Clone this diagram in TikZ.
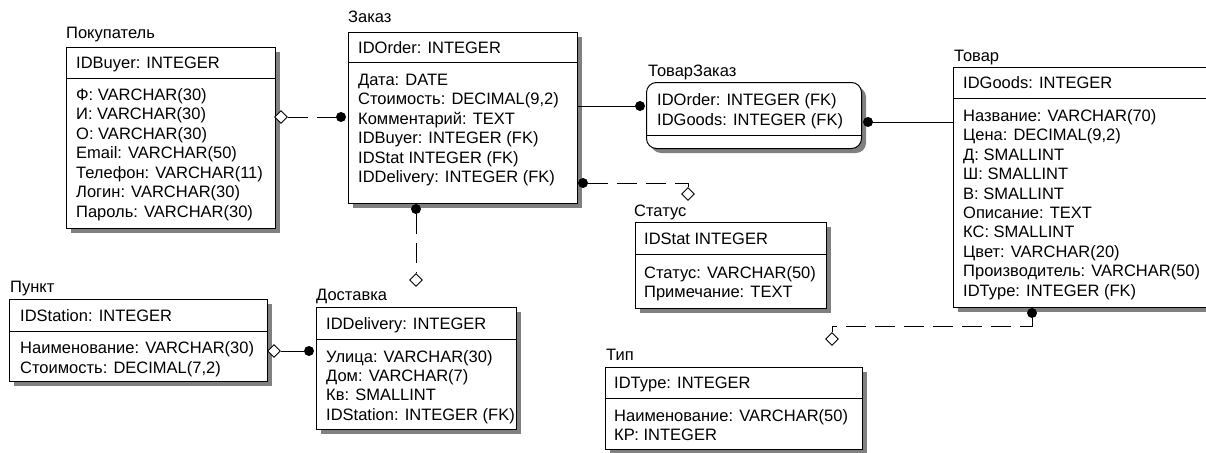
\documentclass[tikz,border=0pt]{standalone}
\usepackage{fontspec}
\setmainfont{Liberation Sans}
\usetikzlibrary{shapes.geometric,shadows}
\begin{document}
\begin{tikzpicture}[x=1pt,y=-1pt,
  ent/.style={draw, fill=white, line width=1pt, inner sep=0, anchor=north west,
    general shadow={fill=black!50, shadow xshift=4.5pt, shadow yshift=-4.5pt}},
  txt/.style={anchor=base west, inner sep=0, font=\fontsize{16.5}{19.5}\selectfont},
  divl/.style={line width=1pt},
  dot/.style={circle, fill=black, inner sep=0, minimum size=10pt},
  dia/.style={diamond, draw, fill=white, inner sep=0, minimum width=13pt, minimum height=13pt, line width=0.9pt},
  rel/.style={line width=1pt},
  idrel/.style={line width=1pt, dash pattern=on 20pt off 9pt},
]
\clip (0,0) rectangle (1206,452);
\fill[white] (0,0) rectangle (1206,452);

% Покупатель
\node[ent, minimum width=209pt, minimum height=181pt] (buyer) at (66,47) {};
\draw[divl] (buyer.west |- 0,78) -- (buyer.east |- 0,78);
\node[txt] (buyer-t) at (66,38) {Покупатель};
\node[txt] (buyer-k) at (76,68) {IDBuyer: INTEGER};
\foreach \s [count=\i from 0] in {Ф: VARCHAR(30), И: VARCHAR(30), О: VARCHAR(30), Email: VARCHAR(50), Телефон: VARCHAR(11), Логин: VARCHAR(30), Пароль: VARCHAR(30)}
  \node[txt] (buyer-\i) at (76,{100+19.5*\i}) {\s};

% Заказ
\node[ent, minimum width=229pt, minimum height=171pt] (order) at (348,32) {};
\draw[divl] (order.west |- 0,62) -- (order.east |- 0,62);
\node[txt] (order-t) at (348,23) {Заказ};
\node[txt] (order-k) at (358,53) {IDOrder: INTEGER};
\foreach \s [count=\i from 0] in {Дата: DATE, {Стоимость: DECIMAL(9,2)}, Комментарий: TEXT, IDBuyer: INTEGER (FK), IDStat INTEGER (FK), IDDelivery: INTEGER (FK)}
  \node[txt] (order-\i) at (358,{85+19.5*\i}) {\s};

% ТоварЗаказ
\node[ent, rounded corners=10pt, minimum width=215pt, minimum height=66pt] (link) at (646,82) {};
\draw[divl] (link.west |- 0,135) -- (link.east |- 0,135);
\node[txt] (link-t) at (648,76) {ТоварЗаказ};
\node[txt] (link-0) at (657,105) {IDOrder: INTEGER (FK)};
\node[txt] (link-1) at (657,125) {IDGoods: INTEGER (FK)};

% Товар
\node[ent, minimum width=262pt, minimum height=240pt] (goods) at (953,67) {};
\draw[divl] (goods.west |- 0,98) -- (goods.east |- 0,98);
\node[txt] (goods-t) at (954,61) {Товар};
\node[txt] (goods-k) at (963,88) {IDGoods: INTEGER};
\foreach \s [count=\i from 0] in {Название: VARCHAR(70), {Цена: DECIMAL(9,2)}, Д: SMALLINT, Ш: SMALLINT, В: SMALLINT, Описание: TEXT, КС: SMALLINT, Цвет: VARCHAR(20), Производитель: VARCHAR(50), IDType: INTEGER (FK)}
  \node[txt] (goods-\i) at (963,{121.5+19.4*\i}) {\s};

% Статус
\node[ent, minimum width=191pt, minimum height=86pt] (status) at (635,222) {};
\draw[divl] (status.west |- 0,254) -- (status.east |- 0,254);
\node[txt] (status-t) at (634,216) {Статус};
\node[txt] (status-k) at (644,244) {IDStat INTEGER};
\node[txt] (status-0) at (644,278) {Статус: VARCHAR(50)};
\node[txt] (status-1) at (644,297) {Примечание: TEXT};

% Тип
\node[ent, minimum width=257pt, minimum height=82pt] (type) at (605,367) {};
\draw[divl] (type.west |- 0,398) -- (type.east |- 0,398);
\node[txt] (type-t) at (606,360) {Тип};
\node[txt] (type-k) at (614,388) {IDType: INTEGER};
\node[txt] (type-0) at (614,421) {Наименование: VARCHAR(50)};
\node[txt] (type-1) at (614,440) {КР: INTEGER};

% Пункт
\node[ent, minimum width=258pt, minimum height=82pt] (station) at (9,299) {};
\draw[divl] (station.west |- 0,331) -- (station.east |- 0,331);
\node[txt] (station-t) at (10,292) {Пункт};
\node[txt] (station-k) at (20,321) {IDStation: INTEGER};
\node[txt] (station-0) at (20,353) {Наименование: VARCHAR(30)};
\node[txt] (station-1) at (20,373) {Стоимость: DECIMAL(7,2)};

% Доставка
\node[ent, minimum width=200pt, minimum height=122pt] (deliv) at (316,307) {};
\draw[divl] (deliv.west |- 0,339) -- (deliv.east |- 0,339);
\node[txt] (deliv-t) at (316,300) {Доставка};
\node[txt] (deliv-k) at (326,329) {IDDelivery: INTEGER};
\foreach \s [count=\i from 0] in {Улица: VARCHAR(30), Дом: VARCHAR(7), Кв: SMALLINT, IDStation: INTEGER (FK)}
  \node[txt] (deliv-\i) at (326,{362+19.4*\i}) {\s};

% Connectors
\node[dia] (d-bo) at (281,117) {};
\node[dot] (p-bo) at (341,117) {};
\draw[idrel] (d-bo) -- (p-bo);

\node[dot] (p-ol) at (640,106) {};
\draw[rel] (order.east |- p-ol) -- (p-ol);

\node[dot] (p-lg) at (868,122) {};
\draw[rel] (p-lg) -- (goods.west |- p-lg);

\node[dot] (p-os) at (583,183) {};
\node[dia] (d-os) at (688,194) {};
\draw[idrel] (p-os) -| (d-os);

\node[dot] (p-od) at (416,209) {};
\node[dia] (d-od) at (416,280) {};
\draw[idrel] (p-od) -- (d-od);

\node[dia] (d-sd) at (274,351) {};
\node[dot] (p-sd) at (309,351) {};
\draw[rel] (d-sd) -- (p-sd);

\node[dot] (p-gt) at (1032,313) {};
\coordinate (c-gt) at (1032,326);
\node[dia] (d-gt) at (832,339) {};
\draw[idrel] (p-gt) -- (c-gt) -| (d-gt);
\end{tikzpicture}
\end{document}
